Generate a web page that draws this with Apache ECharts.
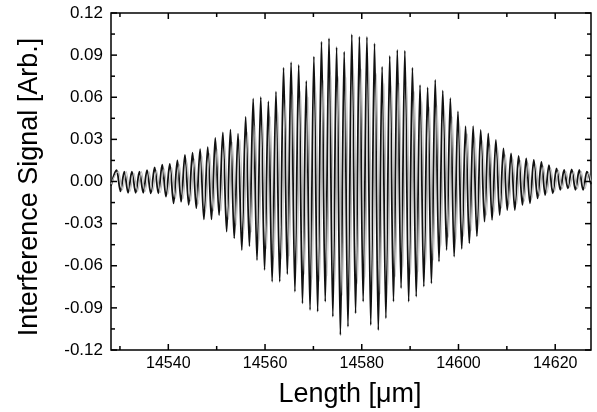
<!DOCTYPE html>
<html>
<head>
<meta charset="utf-8">
<script src="https://cdn.jsdelivr.net/npm/echarts@6/dist/echarts.min.js"></script>
<style>
html,body{margin:0;padding:0;background:#fff;}
#chart{width:597px;height:412px;}
</style>
</head>
<body>
<div id="chart"></div>
<script>
// ---- data ----
var xMajorTicks = [14540, 14560, 14580, 14600, 14620];
var xMinorTicks = [14530, 14550, 14570, 14590, 14610];
var yMajorTicks = [-0.12, -0.09, -0.06, -0.03, 0, 0.03, 0.06, 0.09, 0.12];
var yMinorTicks = [-0.105, -0.075, -0.045, -0.015, 0.015, 0.045, 0.075, 0.105];
var xLimits = [14528.15, 14627.4];
var yLimits = [-0.12, 0.12];
var xTitle = 'Length [\u03bcm]';
var yTitle = 'Interference Signal [Arb.]';

// measured trace (black): fringe maxima and minima
var blackPeakX = [14529.33,14530.90,14532.47,14534.03,14535.60,14537.17,14538.74,14540.31,14541.87,14543.44,
14545.01,14546.58,14548.15,14549.71,14551.28,14552.85,14554.42,14555.99,14557.55,14559.12,
14560.69,14562.26,14563.83,14565.39,14566.96,14568.53,14570.10,14571.67,14573.23,14574.80,
14576.37,14577.94,14579.51,14581.07,14582.64,14584.21,14585.78,14587.35,14588.91,14590.48,
14592.05,14593.62,14595.19,14596.75,14598.32,14599.89,14601.46,14603.03,14604.59,14606.16,
14607.73,14609.30,14610.87,14612.43,14614.00,14615.57,14617.14,14618.71,14620.27,14621.84,
14623.41,14624.98,14626.55];
var blackPeakY = [0.008,0.007,0.007,0.007,0.008,0.010,0.012,0.0125,0.015,0.019,
0.0205,0.023,0.0245,0.031,0.035,0.037,0.034,0.046,0.059,0.060,
0.057,0.064,0.081,0.085,0.083,0.0716,0.089,0.0996,0.102,0.0956,
0.0925,0.1048,0.1031,0.103,0.0984,0.0818,0.0894,0.0937,0.0932,0.081,
0.0687,0.067,0.0723,0.0647,0.0593,0.050,0.0395,0.0395,0.0367,0.0343,
0.0296,0.0236,0.020,0.0182,0.0165,0.0153,0.014,0.0117,0.0094,0.0082,
0.0087,0.0082,0.007];
var blackTroughX = [14530.11,14531.68,14533.25,14534.82,14536.38,14537.95,14539.52,14541.09,14542.66,14544.22,
14545.79,14547.36,14548.93,14550.50,14552.06,14553.63,14555.20,14556.77,14558.34,14559.90,
14561.47,14563.04,14564.61,14566.18,14567.74,14569.31,14570.88,14572.45,14574.02,14575.58,
14577.15,14578.72,14580.29,14581.86,14583.42,14584.99,14586.56,14588.13,14589.70,14591.26,
14592.83,14594.40,14595.97,14597.54,14599.10,14600.67,14602.24,14603.81,14605.38,14606.94,
14608.51,14610.08,14611.65,14613.22,14614.78,14616.35,14617.92,14619.49,14621.06,14622.62,
14624.19,14625.76];
var blackTroughY = [-0.007,-0.008,-0.008,-0.008,-0.0085,-0.0085,-0.0108,-0.0155,-0.0144,-0.0167,
-0.019,-0.027,-0.027,-0.024,-0.0357,-0.0405,-0.0488,-0.046,-0.056,-0.063,
-0.0714,-0.0714,-0.066,-0.0785,-0.0868,-0.0915,-0.0927,-0.0856,-0.0963,-0.1093,
-0.1034,-0.0939,-0.0856,-0.1022,-0.1058,-0.0974,-0.0856,-0.076,-0.0856,-0.082,
-0.0749,-0.0725,-0.057,-0.0488,-0.0535,-0.048,-0.044,-0.039,-0.0286,-0.0274,
-0.0239,-0.0203,-0.0203,-0.0167,-0.0155,-0.012,-0.0096,-0.0084,-0.006,-0.0048,
-0.006,-0.006];
var blackEnds = [[14528.15,-0.003],[14627.4,-0.002]];

// second trace (light grey)
var grayPeakX = [14529.72,14531.29,14532.86,14534.42,14535.99,14537.56,14539.13,14540.70,14542.26,14543.83,
14545.40,14546.97,14548.54,14550.10,14551.67,14553.24,14554.81,14556.38,14557.94,14559.51,
14561.08,14562.65,14564.22,14565.78,14567.35,14568.92,14570.49,14572.06,14573.62,14575.19,
14576.76,14578.33,14579.90,14581.46,14583.03,14584.60,14586.17,14587.74,14589.30,14590.87,
14592.44,14594.01,14595.58,14597.14,14598.71,14600.28,14601.85,14603.42,14604.98,14606.55,
14608.12,14609.69,14611.26,14612.82,14614.39,14615.96,14617.53,14619.10,14620.66,14622.23,
14623.80,14625.37,14626.94];
var grayPeakY = [0.007,0.007,0.006,0.007,0.007,0.008,0.009,0.010,0.012,0.014,
0.016,0.018,0.020,0.023,0.026,0.028,0.030,0.035,0.040,0.044,
0.046,0.050,0.058,0.062,0.064,0.060,0.066,0.072,0.076,0.075,
0.074,0.079,0.080,0.080,0.077,0.070,0.068,0.070,0.069,0.064,
0.057,0.053,0.054,0.050,0.046,0.040,0.034,0.031,0.029,0.026,
0.023,0.019,0.016,0.015,0.013,0.012,0.011,0.009,0.008,0.007,
0.007,0.007,0.006];
var grayTroughX = [14530.50,14532.07,14533.64,14535.21,14536.77,14538.34,14539.91,14541.48,14543.05,14544.61,
14546.18,14547.75,14549.32,14550.89,14552.45,14554.02,14555.59,14557.16,14558.73,14560.29,
14561.86,14563.43,14565.00,14566.57,14568.13,14569.70,14571.27,14572.84,14574.41,14575.97,
14577.54,14579.11,14580.68,14582.25,14583.81,14585.38,14586.95,14588.52,14590.09,14591.65,
14593.22,14594.79,14596.36,14597.93,14599.49,14601.06,14602.63,14604.20,14605.77,14607.33,
14608.90,14610.47,14612.04,14613.61,14615.17,14616.74,14618.31,14619.88,14621.45,14623.01,
14624.58,14626.15];
var grayTroughY = [-0.006,-0.007,-0.007,-0.007,-0.007,-0.008,-0.009,-0.012,-0.012,-0.014,
-0.016,-0.020,-0.021,-0.021,-0.027,-0.031,-0.036,-0.036,-0.043,-0.048,
-0.054,-0.055,-0.053,-0.060,-0.066,-0.070,-0.071,-0.067,-0.073,-0.081,
-0.079,-0.073,-0.068,-0.077,-0.080,-0.075,-0.068,-0.061,-0.066,-0.064,
-0.059,-0.056,-0.046,-0.040,-0.041,-0.039,-0.035,-0.031,-0.024,-0.022,
-0.019,-0.016,-0.016,-0.014,-0.012,-0.010,-0.008,-0.007,-0.005,-0.004,
-0.005,-0.005];
var grayEnds = [[14528.15,-0.002],[14627.4,0.0]];

// ---- build series tables ----
function buildTrace(px, py, tx, ty, ends) {
  var pts = [ends[0].slice()];
  var i;
  for (i = 0; i < px.length; i++) pts.push([px[i], py[i]]);
  for (i = 0; i < tx.length; i++) pts.push([tx[i], ty[i]]);
  pts.push(ends[1].slice());
  pts.sort(function (a, b) { return a[0] - b[0]; });
  return pts;
}
var blackData = buildTrace(blackPeakX, blackPeakY, blackTroughX, blackTroughY, blackEnds);
var grayData = buildTrace(grayPeakX, grayPeakY, grayTroughX, grayTroughY, grayEnds);

var FONT = 'Liberation Sans';
var TICK_STYLE = {stroke: '#000', lineWidth: 1.5};

// inward tick marks on all four frame sides, placed through the axis scales
function xTickSeries(ticks, len) {
  return {
    type: 'custom', silent: true, clip: false, z: 10,
    data: ticks.map(function (v) { return [v, yLimits[0]]; }),
    renderItem: function (params, api) {
      var v = api.value(0);
      var pb = api.coord([v, yLimits[0]]);
      var pt = api.coord([v, yLimits[1]]);
      return {type: 'group', children: [
        {type: 'line', shape: {x1: pb[0], y1: pb[1], x2: pb[0], y2: pb[1] - len}, style: TICK_STYLE},
        {type: 'line', shape: {x1: pt[0], y1: pt[1], x2: pt[0], y2: pt[1] + len}, style: TICK_STYLE}
      ]};
    }
  };
}
function yTickSeries(ticks, len) {
  return {
    type: 'custom', silent: true, clip: false, z: 10,
    data: ticks.map(function (v) { return [xLimits[0], v]; }),
    renderItem: function (params, api) {
      var v = api.value(1);
      var pl = api.coord([xLimits[0], v]);
      var pr = api.coord([xLimits[1], v]);
      return {type: 'group', children: [
        {type: 'line', shape: {x1: pl[0], y1: pl[1], x2: pl[0] + len, y2: pl[1]}, style: TICK_STYLE},
        {type: 'line', shape: {x1: pr[0], y1: pr[1], x2: pr[0] - len, y2: pr[1]}, style: TICK_STYLE}
      ]};
    }
  };
}

var chart = echarts.init(document.getElementById('chart'));
chart.setOption({
  animation: false,
  grid: {left: 111, right: 6, top: 13, bottom: 62, show: true, borderColor: '#000', borderWidth: 1.5},
  xAxis: [{
    type: 'value', position: 'bottom', min: xLimits[0], max: xLimits[1],
    axisLine: {show: false, onZero: false},
    splitLine: {show: false},
    axisTick: {show: false},
    axisLabel: {show: true, customValues: xMajorTicks, margin: 6, color: '#000',
      fontFamily: FONT, fontSize: 16, formatter: function (v) { return String(v); }}
  }],
  yAxis: [{
    type: 'value', position: 'left', min: yLimits[0], max: yLimits[1], interval: 0.03,
    axisLine: {show: false, onZero: false},
    splitLine: {show: false},
    axisTick: {show: false},
    axisLabel: {show: true, margin: 8, color: '#000', fontFamily: FONT, fontSize: 17,
      formatter: function (v) { return v.toFixed(2); }}
  }],
  graphic: [
    {type: 'text', x: 350, y: 395, silent: true,
      style: {text: xTitle, font: '27px "Liberation Sans"', fill: '#000', align: 'center', verticalAlign: 'middle'}},
    {type: 'text', x: 30, y: 187, rotation: Math.PI / 2, silent: true,
      style: {text: yTitle, font: '27px "Liberation Sans"', fill: '#000', align: 'center', verticalAlign: 'middle'}}
  ],
  series: [
    {type: 'line', data: blackData,
      showSymbol: false, smooth: 0.35, smoothMonotone: 'x',
      lineStyle: {color: '#111', width: 1.8}},
    {type: 'line', data: grayData,
      showSymbol: false, smooth: 0.35, smoothMonotone: 'x',
      lineStyle: {color: '#b8b8b8', width: 1.1}},
    xTickSeries(xMajorTicks, 6),
    xTickSeries(xMinorTicks, 4),
    yTickSeries(yMajorTicks, 6),
    yTickSeries(yMinorTicks, 4)
  ]
});
</script>
</body>
</html>
